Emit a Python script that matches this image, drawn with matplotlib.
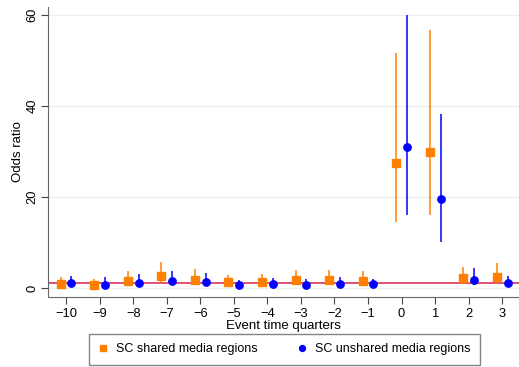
import numpy as np
import matplotlib.pyplot as plt

plt.rcParams['font.family'] = ['Liberation Sans', 'DejaVu Sans']

quarters = [-10, -9, -8, -7, -6, -5, -4, -3, -2, -1, 0, 1, 2, 3]

shared_or = [0.9, 0.6, 1.6, 2.6, 1.8, 1.25, 1.4, 1.75, 1.7, 1.6, 27.4, 30.0, 2.1, 2.5]
shared_lo = [0.3, 0.2, 0.6, 1.0, 0.7, 0.5, 0.6, 0.7, 0.7, 0.6, 14.4, 16.0, 0.8, 1.0]
shared_hi = [2.5, 2.0, 3.8, 5.6, 4.1, 2.9, 3.1, 4.0, 3.9, 3.7, 51.7, 56.7, 4.7, 5.5]

unshared_or = [1.0, 0.7, 1.1, 1.5, 1.3, 0.6, 0.8, 0.65, 0.95, 0.75, 30.9, 19.6, 1.8, 1.0]
unshared_lo = [0.4, 0.2, 0.4, 0.6, 0.5, 0.2, 0.3, 0.2, 0.4, 0.3, 16.0, 10.0, 0.7, 0.4]
unshared_hi = [2.7, 2.3, 3.1, 3.7, 3.2, 1.75, 2.1, 1.9, 2.5, 2.0, 60.0, 38.2, 4.3, 2.6]

orange = '#ff8000'
blue = '#0000ff'

fig = plt.figure(figsize=(5.19, 3.67), dpi=100)
ax = fig.add_axes([0.0925, 0.192, 0.9075, 0.789])

x = np.array(quarters, dtype=float)
off = 0.16

ax.axhline(1, color='#d6204e', lw=1.1, zorder=2)

ax.vlines(x - off, shared_lo, shared_hi, color=orange, lw=1.1, zorder=3)
ax.plot(x - off, shared_or, 's', color=orange, ms=5.3, ls='none', zorder=4,
        label='SC shared media regions')
ax.vlines(x + off, unshared_lo, unshared_hi, color=blue, lw=1.1, zorder=3)
ax.plot(x + off, unshared_or, 'o', color=blue, ms=5.3, ls='none', zorder=4,
        label='SC unshared media regions')

ax.set_xlim(-10.54, 3.5)
ax.set_ylim(-1.9, 61.8)
ax.set_xticks(quarters)
ax.set_yticks([0, 20, 40, 60])
ax.grid(axis='y', color='#e8f0f2', lw=1)
ax.set_axisbelow(True)

for s in ['top', 'right']:
    ax.spines[s].set_visible(False)
for s in ['left', 'bottom']:
    ax.spines[s].set_color('#666666')
ax.tick_params(colors='#444444', labelcolor='black', labelsize=9.3, length=5)
ax.tick_params(axis='y', pad=2)
plt.setp(ax.get_yticklabels(), rotation=90, va='center')

ax.set_xlabel('Event time quarters', fontsize=9.5, labelpad=0)
ax.set_ylabel('Odds ratio', fontsize=9.5, labelpad=2)

fig.legend(loc='center', bbox_to_anchor=(0.548, 0.048), ncol=2, fontsize=9,
           frameon=True, fancybox=False, edgecolor='#666666', handlelength=0.8,
           handletextpad=0.6, columnspacing=3.2, markerscale=0.8, borderpad=0.75)

fig.savefig('out.png', dpi=100)
